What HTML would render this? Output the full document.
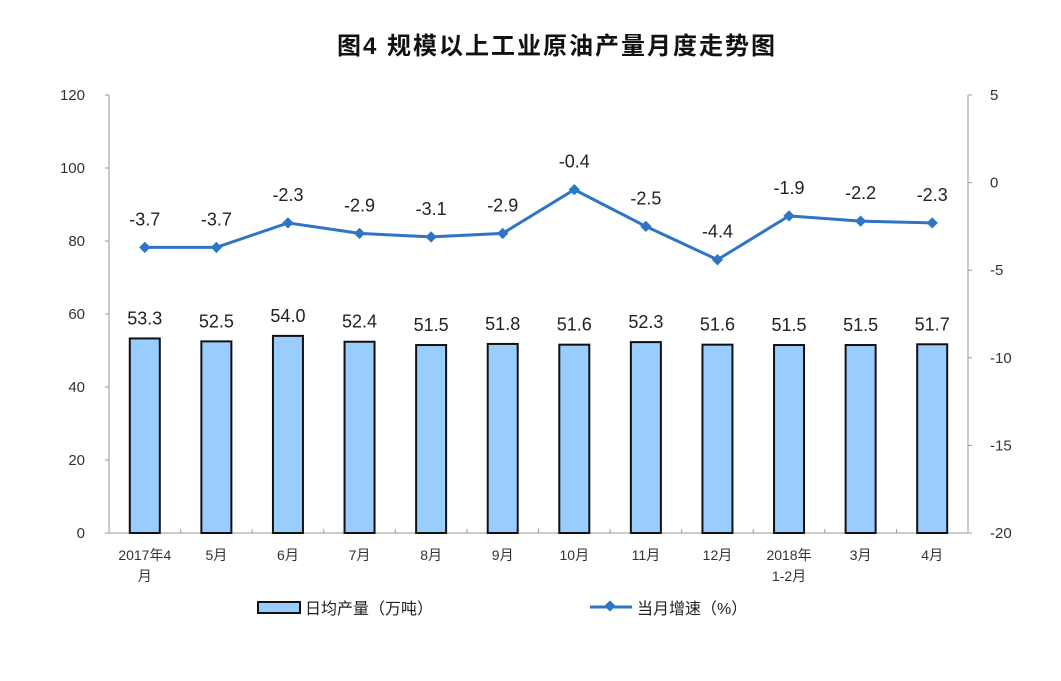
<!DOCTYPE html>
<html><head><meta charset="utf-8"><style>
body{margin:0;background:#fff;}
svg text{font-family:"Liberation Sans","Noto Sans CJK SC",sans-serif;}
</style></head><body>
<svg id="chart" width="1061" height="676" xmlns="http://www.w3.org/2000/svg">
<text x="557" y="54" text-anchor="middle" font-size="24" font-weight="bold" letter-spacing="2" fill="#111">图4  规模以上工业原油产量月度走势图</text>
<g id="axes"></g><g id="bars"></g><g id="line"></g>
<g>
<rect x="258" y="602" width="42" height="11" fill="#99ccff" stroke="#111" stroke-width="2"/>
<text x="305" y="614" font-size="16" fill="#222">日均产量（万吨）</text>
<line x1="590" y1="607" x2="632" y2="607" stroke="#2e75c6" stroke-width="3"/>
<rect x="606" y="602" width="8" height="8" fill="#2e75c6" transform="rotate(45 610 606)"/>
<text x="637" y="614" font-size="16" fill="#222">当月增速（%）</text>
</g>
</svg>
<script>
const categories=["2017年4|月","5月","6月","7月","8月","9月","10月","11月","12月","2018年|1-2月","3月","4月"];
const output=[53.3,52.5,54.0,52.4,51.5,51.8,51.6,52.3,51.6,51.5,51.5,51.7];
const growth=[-3.7,-3.7,-2.3,-2.9,-3.1,-2.9,-0.4,-2.5,-4.4,-1.9,-2.2,-2.3];
const leftTicks=[0,20,40,60,80,100,120];
const rightTicks=[5,0,-5,-10,-15,-20];
const NS="http://www.w3.org/2000/svg";
const X0=109,X1=968,Y0=533,Y1=95;
const step=(X1-X0)/categories.length;
const xc=i=>X0+step*(i+0.5);
const yL=v=>Y0-(v/120)*(Y0-Y1);
const yR=v=>Y0-((v+20)/25)*(Y0-Y1);
function mk(tag,attrs,parent,txt){const e=document.createElementNS(NS,tag);for(const k in attrs)e.setAttribute(k,attrs[k]);if(txt!==undefined)e.textContent=txt;parent.appendChild(e);return e;}
const ax=document.getElementById('axes'),bg=document.getElementById('bars'),lg=document.getElementById('line');
let a=mk('line',{x1:X0,y1:Y1,x2:X0,y2:Y0,stroke:'#999','stroke-width':1},ax);


a=mk('line',{x1:X1,y1:Y1,x2:X1,y2:Y0,stroke:'#999','stroke-width':1},ax);


a=mk('line',{x1:X0,y1:Y0,x2:X1,y2:Y0,stroke:'#999','stroke-width':1},ax);


leftTicks.forEach(v=>{const y=yL(v);mk('line',{x1:X0-4,y1:y,x2:X0,y2:y,stroke:'#999'},ax);
const t=mk('text',{x:X0-24,y:y+5,'text-anchor':'end','font-size':15,fill:'#333'},ax,v);

});
rightTicks.forEach(v=>{const y=yR(v);mk('line',{x1:X1,y1:y,x2:X1+4,y2:y,stroke:'#999'},ax);
const t=mk('text',{x:X1+22,y:y+5,'text-anchor':'start','font-size':15,fill:'#333'},ax,v);

});
for(let i=1;i<categories.length;i++){const x=X0+step*i;mk('line',{x1:x,y1:Y0,x2:x,y2:Y0-4,stroke:'#999'},ax);}
categories.forEach((c,i)=>{const parts=c.split('|');parts.forEach((p,j)=>{
const t=mk('text',{x:xc(i),y:560+j*21,'text-anchor':'middle','font-size':14,fill:'#333'},ax,p);

});});
output.forEach((v,i)=>{const y=yL(v);
const r=mk('rect',{x:xc(i)-15,y:y,width:30,height:Y0-y,fill:'#99ccff',stroke:'#111','stroke-width':2},bg);


const t=mk('text',{x:xc(i),y:y-14,'text-anchor':'middle','font-size':18,fill:'#222'},bg,v.toFixed(1));

});
const pl=mk('polyline',{points:growth.map((v,i)=>xc(i)+','+yR(v)).join(' '),fill:'none',stroke:'#2e75c6','stroke-width':3},lg);


growth.forEach((v,i)=>{const x=xc(i),y=yR(v);
const p=mk('rect',{x:x-4,y:y-4,width:8,height:8,fill:'#2e75c6',transform:`rotate(45 ${x} ${y})`},lg);


const t=mk('text',{x:x,y:y-22,'text-anchor':'middle','font-size':18,fill:'#222'},lg,v.toFixed(1));

});
</script>
</body></html>
